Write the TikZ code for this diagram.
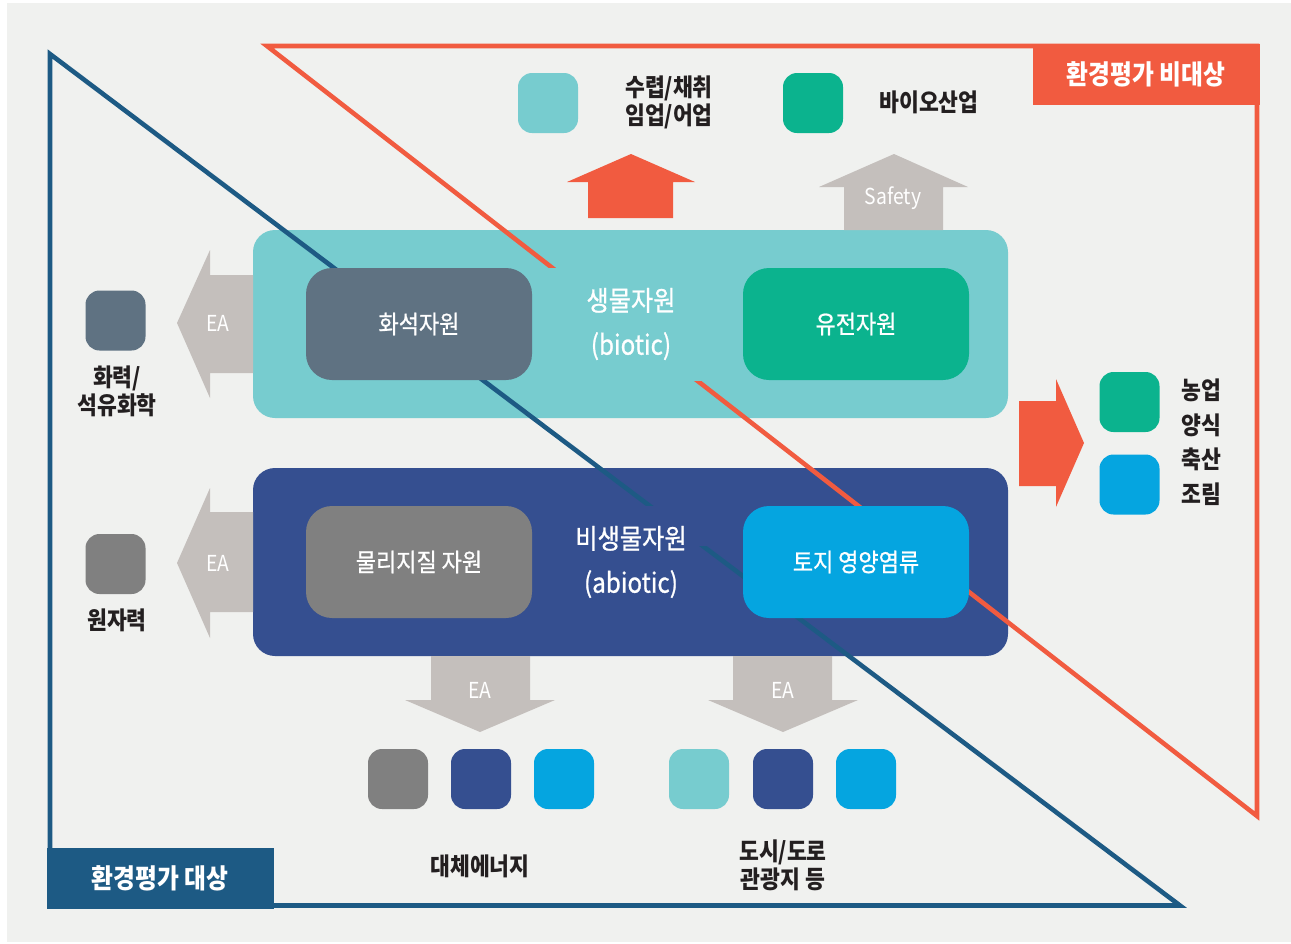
\documentclass[tikz,border=0pt]{standalone}
\usepackage{fontspec}
\setmainfont{Noto Sans CJK KR}[FakeStretch=0.88]
\newfontfamily\krmed{Noto Sans CJK KR}[FakeStretch=0.88, FakeBold=0.8]
\definecolor{bggray}{HTML}{F0F1EF}
\definecolor{cyanb}{HTML}{77CCCF}
\definecolor{slate}{HTML}{5F7282}
\definecolor{tealg}{HTML}{0BB38E}
\definecolor{navy}{HTML}{354F90}
\definecolor{grayb}{HTML}{808080}
\definecolor{brightb}{HTML}{05A5E0}
\definecolor{arrowg}{HTML}{C4BFBC}
\definecolor{orangec}{HTML}{F15B40}
\definecolor{darkb}{HTML}{1D5A84}
\definecolor{txt}{HTML}{231F20}
\begin{document}
\begin{tikzpicture}[x=1pt,y=-1pt,
  bigbox/.style={rounded corners=22pt, minimum width=755pt, minimum height=188pt, inner sep=0pt},
  inbox/.style={rounded corners=26pt, minimum width=226pt, minimum height=112pt, inner sep=0pt, text=white, font=\krmed\fontsize{25}{29}\selectfont},
  sq/.style={rounded corners=14pt, minimum width=60pt, minimum height=60pt, inner sep=0pt},
  blk/.style={text=txt, font=\bfseries\fontsize{24.5}{28}\selectfont, align=center, inner sep=0pt},
  wlab/.style={text=white, font=\krmed\fontsize{27.5}{44}\selectfont, align=center, inner sep=0pt},
  ea/.style={text=white, font=\fontsize{22}{24}\selectfont, inner sep=0pt},
  hdr/.style={text=white, font=\bfseries\fontsize{27}{30}\selectfont, inner sep=0pt},
  tri/.style={line width=4.6pt, line join=miter}
]
\useasboundingbox (0,0) rectangle (1291,943);
\fill[white] (0,0) rectangle (1291,943);
\fill[bggray] (7,3) rectangle (1291,942);

% big boxes
\node[bigbox, fill=cyanb] (bio) at (630.5,324) {};
\node[bigbox, fill=navy] (abio) at (630.5,562) {};

% triangles
\draw[tri, darkb] (50,54) -- (50,905.5) -- (1180,905.5) -- cycle;
\draw[tri, orangec] (267,46) -- (1257,46) -- (1257,816) -- cycle;

% label masks
\fill[cyanb] (538,268) rectangle (737,381);
\fill[navy] (538,506) rectangle (737,546);

% inner boxes
\node[inbox, fill=slate] (fossil) at (419,324) {화석자원};
\node[inbox, fill=tealg] (gene) at (856,324) {유전자원};
\node[inbox, fill=grayb] (phys) at (419,562) {물리지질 자원};
\node[inbox, fill=brightb] (soil) at (856,562) {토지 영양염류};

\node[wlab] (biolab) at (631,324) {생물자원\\(biotic)};
\node[wlab] (abiolab) at (631,562) {비생물자원\\(abiotic)};

% arrows
\fill[arrowg] (253,275) -- (210,275) -- (210,250) -- (177,323) -- (210,398) -- (210,373) -- (253,373) -- cycle;
\node[ea] (ea1) at (218,323) {EA};
\fill[arrowg] (253,512) -- (210,512) -- (210,488) -- (177,563) -- (210,638) -- (210,612) -- (253,612) -- cycle;
\node[ea] (ea2) at (218,563) {EA};
\fill[orangec] (588,218) -- (588,182) -- (567,182) -- (631,154) -- (695,182) -- (673,182) -- (673,218) -- cycle;
\fill[arrowg] (844,230) -- (844,187) -- (819,187) -- (894,154) -- (968,187) -- (943,187) -- (943,230) -- cycle;
\node[ea] (safety) at (893,198) {Safety};
\fill[orangec] (1019,401) -- (1056,401) -- (1056,379) -- (1084,443) -- (1056,507) -- (1056,486) -- (1019,486) -- cycle;
\fill[arrowg] (431,656) -- (530,656) -- (530,700) -- (555,700) -- (480,732) -- (405,700) -- (431,700) -- cycle;
\node[ea] (ea3) at (480,690) {EA};
\fill[arrowg] (733,656) -- (832,656) -- (832,700) -- (858,700) -- (783,732) -- (708,700) -- (733,700) -- cycle;
\node[ea] (ea4) at (783,690) {EA};

% squares
\node[sq, fill=cyanb] (s1) at (548,103) {};
\node[sq, fill=tealg] (s2) at (813,103) {};
\node[sq, fill=slate] (s3) at (115.5,320.5) {};
\node[sq, fill=grayb] (s4) at (115.5,564) {};
\node[sq, fill=tealg] (s5) at (1129.5,402) {};
\node[sq, fill=brightb] (s6) at (1129.5,484.5) {};
\node[sq, fill=grayb] (b1) at (398,779) {};
\node[sq, fill=navy] (b2) at (481,779) {};
\node[sq, fill=brightb] (b3) at (564,779) {};
\node[sq, fill=cyanb] (b4) at (699,779) {};
\node[sq, fill=navy] (b5) at (783,779) {};
\node[sq, fill=brightb] (b6) at (866,779) {};

% texts
\node[blk] (t1) at (669,102) {수렵/채취\\임업/어업};
\node[blk] (t2) at (929,102) {바이오산업};
\node[blk] (t3) at (117,391) {화력/\\석유화학};
\node[blk] (t4) at (117,620) {원자력};
\node[blk, font=\bfseries\fontsize{24.5}{34.5}\selectfont] (t5) at (1201,442) {농업\\양식\\축산\\조림};
\node[blk] (t6) at (480,866) {대체에너지};
\node[blk] (t7) at (783,865) {도시/도로\\관광지 등};

% headers
\fill[orangec] (1033,44) rectangle (1260,105);
\node[hdr] (h1) at (1146,74) {환경평가 비대상};
\fill[darkb] (47,848) rectangle (274,909);
\node[hdr] (h2) at (160,878) {환경평가 대상};
\end{tikzpicture}
\end{document}
